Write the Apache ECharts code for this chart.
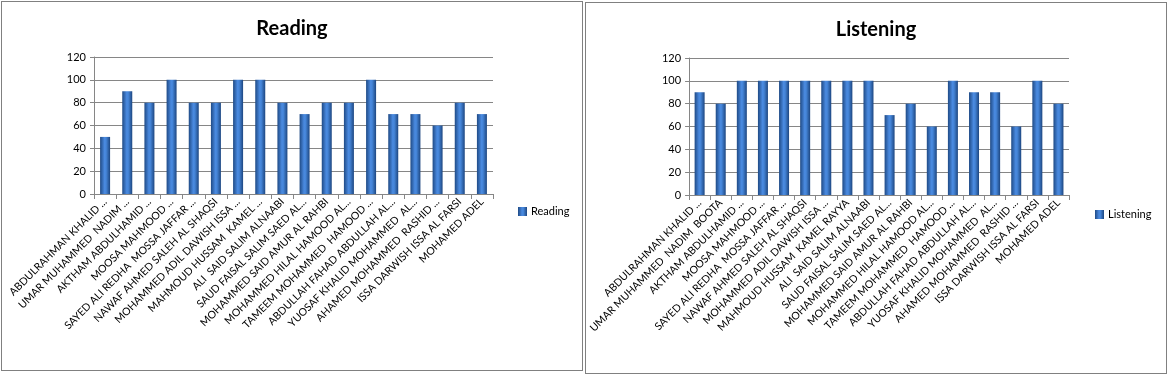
<!DOCTYPE html>
<html><head><meta charset="utf-8">
<script src="https://cdn.jsdelivr.net/npm/echarts@6/dist/echarts.min.js"></script>
<style>
html,body{margin:0;padding:0;background:#fff;width:1172px;height:380px;overflow:hidden;}
.box{position:absolute;border:1px solid #808080;background:#fff;overflow:hidden;}
</style></head>
<body>
<div id="c1" class="box" style="left:1px;top:1px;width:580px;height:368px;"></div>
<div id="c2" class="box" style="left:585px;top:2px;width:580px;height:370px;"></div>
<script>
const readingNames = [
 "ABDULRAHMAN KHALID ...","UMAR MUHAMMED  NADIM ...","AKTHAM ABDULHAMID ...","MOOSA MAHMOOD ...",
 "SAYED ALI REDHA  MOSSA JAFFAR ...","NAWAF AHMED SALEH AL SHAQSI","MOHAMMED ADIL DAWISH ISSA ...",
 "MAHMOUD HUSSAM  KAMEL ...","ALI  SAID SALIM ALNAABI","SAUD FAISAL SALIM SAED AL...",
 "MOHAMMED SAID AMUR AL RAHBI","MOHAMMED HILAL HAMOOD AL...","TAMEEM MOHAMMED  HAMOOD ...",
 "ABDULLAH FAHAD ABDULLAH AL...","YUOSAF KHALID MOHAMMED  AL...","AHAMED MOHAMMED  RASHID ...",
 "ISSA DARWISH ISSA AL FARSI","MOHAMED ADEL"];
const listeningNames = [
 "ABDULRAHMAN KHALID ...","UMAR MUHAMMED  NADIM  BOOTA","AKTHAM ABDULHAMID ...","MOOSA MAHMOOD ...",
 "SAYED ALI REDHA  MOSSA JAFFAR ...","NAWAF AHMED SALEH AL SHAQSI","MOHAMMED ADIL DAWISH ISSA ...",
 "MAHMOUD HUSSAM  KAMEL RAYYA","ALI  SAID SALIM ALNAABI","SAUD FAISAL SALIM SAED AL...",
 "MOHAMMED SAID AMUR AL RAHBI","MOHAMMED HILAL HAMOOD AL...","TAMEEM MOHAMMED  HAMOOD ...",
 "ABDULLAH FAHAD ABDULLAH AL...","YUOSAF KHALID MOHAMMED  AL...","AHAMED MOHAMMED  RASHID ...",
 "ISSA DARWISH ISSA AL FARSI","MOHAMED ADEL"];
const readingValues = [50,90,80,100,80,80,100,100,80,70,80,80,100,70,70,60,80,70];
const listeningValues = [90,80,100,100,100,100,100,100,100,70,80,60,100,90,90,60,100,80];
const yTicks = [0,20,40,60,80,100,120];

const FONT = 'Lato, "Open Sans", sans-serif';
const barColor = new echarts.graphic.LinearGradient(0,0,1,0,[
  {offset:0,color:'#1f4a85'},{offset:0.45,color:'#4a8ae0'},{offset:0.6,color:'#4585d8'},{offset:1,color:'#1d4680'}]);

function makeOption(title, names, values, gridLeft, gridWidth, legendLeft, legendTop){
  return {
    animation:false,
    textStyle:{fontFamily:FONT},
    title:{text:title,left:'center',top:12,textStyle:{fontFamily:FONT,fontSize:20,fontWeight:'bold',color:'#000'}},
    legend:{data:[title],left:legendLeft,top:legendTop,itemWidth:9,itemHeight:9,itemGap:4,
      textStyle:{fontFamily:FONT,fontSize:11,color:'#000',padding:[0,0,0,-1]},icon:'rect'},
    grid:{left:gridLeft,top:55,width:gridWidth,height:137,containLabel:false},
    xAxis:{type:'category',data:names,
      axisLine:{lineStyle:{color:'#868686',width:1}},
      axisTick:{show:true,alignWithLabel:false,length:5,lineStyle:{color:'#868686'}},
      axisLabel:{rotate:45,interval:0,fontSize:10.5,color:'#000',fontFamily:FONT,margin:6}},
    yAxis:{type:'value',min:yTicks[0],max:yTicks[yTicks.length-1],interval:20,
      axisLine:{show:true,lineStyle:{color:'#868686'}},
      axisTick:{show:true,length:4,lineStyle:{color:'#868686'}},
      splitLine:{lineStyle:{color:'#868686',width:1}},
      axisLabel:{fontSize:11,color:'#000',fontFamily:FONT,margin:8}},
    series:[{name:title,type:'bar',data:values,barWidth:10,itemStyle:{color:barColor}}]
  };
}
const c1 = echarts.init(document.getElementById('c1'),null,{renderer:'canvas'});
c1.setOption(makeOption('Reading',readingNames,readingValues,92,399,511,199));
const c2 = echarts.init(document.getElementById('c2'),null,{renderer:'canvas'});
c2.setOption(makeOption('Listening',listeningNames,listeningValues,93,390,504,201));
</script>
</body></html>
